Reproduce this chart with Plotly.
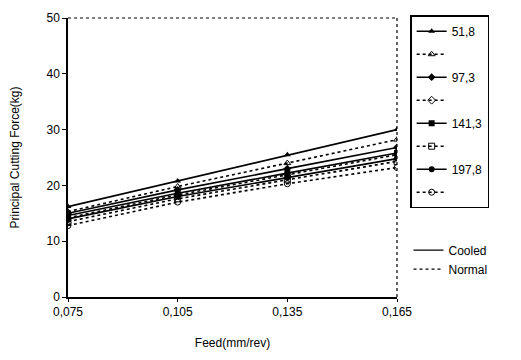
import plotly.graph_objects as go

feed = [0.075, 0.105, 0.135, 0.165]
feed_labels = ["0,075", "0,105", "0,135", "0,165"]
speeds = ["51,8", "97,3", "141,3", "197,8"]

cooled = {
    "51,8": [16.2, 20.8, 25.5, 30.0],
    "97,3": [15.0, 19.2, 23.0, 26.8],
    "141,3": [14.6, 18.6, 22.2, 25.8],
    "197,8": [14.0, 18.0, 21.4, 24.8],
}
normal = {
    "51,8": [15.3, 19.8, 24.0, 28.2],
    "97,3": [14.2, 18.3, 21.9, 25.5],
    "141,3": [13.5, 17.6, 21.0, 24.3],
    "197,8": [12.8, 17.0, 20.3, 23.2],
}
symbols_filled = ["triangle-up", "diamond", "square", "circle"]
symbols_open = ["triangle-up-open", "diamond-open", "square-open", "circle-open"]

fig = go.Figure()
for i, s in enumerate(speeds):
    fig.add_trace(go.Scatter(
        x=feed, y=cooled[s], name=s, mode="lines+markers",
        line=dict(color="black", width=1.6, dash="solid"),
        marker=dict(symbol=symbols_filled[i], size=6, color="black"),
        legendgroup="c" + s, legend="legend",
    ))
    fig.add_trace(go.Scatter(
        x=feed, y=normal[s], name=" ", mode="lines+markers",
        line=dict(color="black", width=1.6, dash="dot"),
        marker=dict(symbol=symbols_open[i], size=6, color="black"),
        legendgroup="n" + s, legend="legend",
    ))

fig.add_trace(go.Scatter(x=[None], y=[None], name="Cooled", mode="lines",
                         line=dict(color="black", width=1.2), legend="legend2"))
fig.add_trace(go.Scatter(x=[None], y=[None], name="Normal", mode="lines",
                         line=dict(color="black", width=1.2, dash="dot"), legend="legend2"))

# dotted top and right frame
fig.add_shape(type="line", xref="x domain", yref="y domain", x0=0, x1=1, y0=1, y1=1,
              line=dict(color="black", width=1.2, dash="dot"))
fig.add_shape(type="line", xref="x domain", yref="y domain", x0=1, x1=1, y0=0, y1=1,
              line=dict(color="black", width=1.2, dash="dot"))

font = "Liberation Sans"
fig.update_layout(
    width=521, height=360,
    margin=dict(l=60, r=132, t=10, b=71, autoexpand=False),
    plot_bgcolor="white", paper_bgcolor="white",
    font=dict(family=font, size=12, color="black"),
    showlegend=True,
    legend=dict(x=1.04, y=1.01, xanchor="left", yanchor="top",
                bordercolor="black", borderwidth=1.5, bgcolor="white",
                tracegroupgap=4, maxheight=400, font=dict(size=12)),
    legend2=dict(x=1.035, y=0.22, xanchor="left", yanchor="top",
                 borderwidth=0, bgcolor="rgba(0,0,0,0)", font=dict(size=12),
                 tracegroupgap=0, maxheight=200),
)
fig.update_xaxes(
    range=[0.075, 0.165], tickvals=feed, ticktext=feed_labels,
    showline=True, linecolor="black", linewidth=1.5, showgrid=False, zeroline=False,
    ticks="outside", ticklen=3, tickcolor="black",
    title=dict(text="Feed(mm/rev)", standoff=20, font=dict(size=12)),
)
fig.update_yaxes(
    range=[0, 50], tickvals=[0, 10, 20, 30, 40, 50],
    showline=True, linecolor="black", linewidth=1.5, showgrid=False, zeroline=False,
    ticks="outside", ticklen=4, tickcolor="black",
    title=dict(text="Principal Cutting Force(kg)", standoff=28, font=dict(size=12)),
)
fig.write_html("out.html")
